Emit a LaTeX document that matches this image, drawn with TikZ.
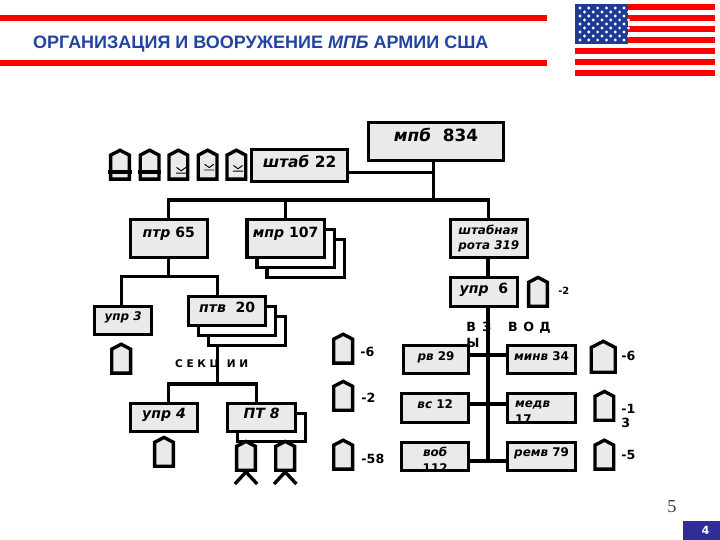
\documentclass[tikz,border=0pt]{standalone}
\usepackage{xcolor}
\usepackage{fontspec}
\setmainfont{DejaVu Sans}
\newfontfamily\titlefont{Liberation Sans}
\newfontfamily\pagefont{Liberation Serif}
\usetikzlibrary{positioning,shapes,arrows,calc}
\definecolor{flagblue}{RGB}{30, 58, 150}
\definecolor{titleblue}{RGB}{34, 68, 160}
\definecolor{slideblue}{RGB}{46, 46, 150}
\definecolor{unitgray}{RGB}{234, 234, 234}
\newcommand{\kmark}[1]{\draw[line width=.7pt, line cap=round] ($(#1)+(-.12,-.08)$) -- ($(#1)+(.12,-.08)$) ($(#1)+(-.11,.06)$) -- ($(#1)+(0,-.02)$) -- ($(#1)+(.11,.06)$);}
\begin{document}
\begin{tikzpicture}[
        unit/.style={rectangle, draw, fill=unitgray, line width=2.4pt, inner sep=0pt, minimum width=1.68cm, minimum height=0.72cm, font=\bfseries\fontsize{10}{12}\selectfont},
        sheet/.style={rectangle, draw, fill=white, line width=2.4pt, inner sep=0pt, minimum width=1.93cm, minimum height=0.73cm},
        small/.style={unit, font=\bfseries\fontsize{8.5}{11}\selectfont},
        up/.style={text depth=.2cm},
        uphigh/.style={text depth=.32cm},
        sym/.style={signal, signal to=north, signal pointer angle=125, draw, fill=unitgray, line width=2.4pt, inner sep=0pt, anchor=south, minimum width=0.47cm, minimum height=0.6cm},
        wire/.style={line width=2.4pt},
        num/.style={anchor=west, inner sep=0pt, font=\bfseries\fontsize{9}{10}\selectfont}
    ]
        \useasboundingbox (0,0) rectangle (18,13.5);

        % Title
        \fill[red] (0,13.125) rectangle (13.68,12.975);
        \fill[red] (0,12) rectangle (13.68,11.85);
        \node[text=titleblue, font=\titlefont\bfseries\fontsize{12.8}{15}\selectfont] (title) at (6.52,12.39) {ОРГАНИЗАЦИЯ И ВООРУЖЕНИЕ \textit{МПБ} АРМИИ США};

        % Flag
        \foreach \k in {0,...,6} {
            \fill[red] (14.38,{13.4-.275*\k}) rectangle (17.88,{13.25-.275*\k});
        }
        \fill[flagblue] (14.38,13.4) rectangle (15.7,12.4);
        \foreach \r in {0,...,8} {
            \foreach \c in {0,...,5} {
                \fill[white] ({14.5+.22*\c+.11*mod(\r,2)},{13.3-.1*\r}) circle (.04);
            }
        }

        % Battalion
        \node[unit, uphigh, minimum width=3.38cm, minimum height=0.95cm, font=\bfseries\fontsize{12}{14}\selectfont] (mpb) at (10.9,9.96) {\textit{мпб}~~834};
        \node[unit, up, minimum width=2.4cm, minimum height=0.8cm, font=\bfseries\fontsize{11}{14}\selectfont] (shtab) at (7.49,9.36) {\textit{штаб} 22};
        \coordinate (shbus) at (10.83,9.18);
        \coordinate (mainbus) at (10.83,8.5);

        \node[sym] (sh1) at (3,8.98) {};
        \node[sym] (sh2) at (3.74,8.98) {};
        \node[sym] (sh3) at (4.46,8.98) {};
        \node[sym] (sh4) at (5.19,8.98) {};
        \node[sym] (sh5) at (5.91,8.98) {};
        \draw[wire] ($(sh1.south)+(-.29,.22)$) -- ($(sh1.south)+(.29,.22)$);
        \draw[wire] ($(sh2.south)+(-.29,.22)$) -- ($(sh2.south)+(.29,.22)$);
        \kmark{4.53,9.25}
        \kmark{5.23,9.33}
        \kmark{5.95,9.3}

        \draw[wire] (mpb.south -| mainbus) -- (mainbus);
        \draw[wire] (shtab.east |- shbus) -- (shbus);

        % Companies
        \node[unit, uphigh, minimum width=1.93cm, minimum height=0.95cm] (ptr) at (4.22,7.54) {\textit{птр} 65};
        \node[sheet, minimum height=0.95cm] (mpr3) at (7.64,7.04) {};
        \node[sheet, minimum height=0.95cm] (mpr2) at (7.39,7.29) {};
        \node[unit, uphigh, minimum width=1.93cm, minimum height=0.95cm] (mpr) at (7.14,7.54) {\textit{мпр} 107};
        \node[small, minimum width=1.93cm, minimum height=0.95cm, align=left] (shtr) at (12.22,7.54) {\textit{штабная}\\\textit{рота 319}};

        \draw[wire] (ptr.north) |- (shtr.north |- mainbus) -- (shtr.north);
        \draw[wire] (mpr.north) -- (mpr.north |- mainbus);

        % Anti-tank platoon
        \coordinate (ptrbus) at (4.22,6.58);
        \coordinate (ptvbus) at (5.43,3.9);
        \node[small, up, minimum width=1.43cm, minimum height=0.7cm] (upr3) at (3.08,5.49) {\textit{упр 3}};
        \node[sheet] (ptv3) at (6.18,5.23) {};
        \node[sheet] (ptv2) at (5.93,5.48) {};
        \node[unit, up, minimum width=1.93cm] (ptv) at (5.68,5.73) {\textit{птв}~~20};
        \node[sym] (upr3s) at (3.03,4.13) {};

        \draw[wire] (ptr.south) -- (ptrbus);
        \draw[wire] ([xshift=-.05cm]upr3.north) |- (ptvbus |- ptrbus) -- (ptvbus |- ptv.north);
        \draw[wire] (ptv3.south -| ptvbus) -- (ptvbus);

        % Sections
        \node[font=\bfseries\fontsize{7.5}{9}\selectfont, inner sep=0pt] (sec) at (5.29,4.39) {С Е К Ц \ И И};
        \node[unit, up, minimum height=0.7cm] (upr4) at (4.1,3.06) {\textit{упр 4}};
        \node[sheet, minimum width=1.7cm, minimum height=0.7cm] (pt82) at (6.79,2.81) {};
        \node[unit, up, minimum width=1.7cm, minimum height=0.7cm] (pt8) at (6.54,3.06) {\textit{ПТ 8}};
        \node[sym] (upr4s) at (4.1,1.8) {};
        \node[sym] (pt8a) at (6.15,1.7) {};
        \node[sym] (pt8b) at (7.13,1.7) {};

        \draw[wire] ([xshift=.12cm]upr4.north) |- (ptvbus) -| ([xshift=-.13cm]pt8.north);
        \draw[wire] ($(pt8a.south)+(-.28,-.3)$) -- (pt8a.south) -- ($(pt8a.south)+(.28,-.3)$);
        \draw[wire] ($(pt8b.south)+(-.28,-.3)$) -- (pt8b.south) -- ($(pt8b.south)+(.28,-.3)$);

        % Headquarters company
        \node[unit, up, minimum height=0.73cm] (upr6) at (12.1,6.2) {\textit{упр}~~6};
        \node[sym] (upr6s) at (13.45,5.8) {};
        \node[num, font=\bfseries\fontsize{7}{9}\selectfont] (upr6n) at (13.95,6.23) {-2};
        \coordinate (trunk) at (12.2,1.975);
        \coordinate (b1) at (12.2,4.625);
        \coordinate (b2) at (12.2,3.4);
        \node[small, up, minimum width=1.63cm, minimum height=0.7cm] (rv) at (10.9,4.51) {\textit{рв} 29};
        \node[small, up, minimum height=0.73cm] (vs) at (10.88,3.3) {\textit{вс} 12};
        \node[small, minimum height=0.7cm, align=center] (vob) at (10.88,2.09) {\smash{\raisebox{-.2cm}{\begin{tabular}[c]{@{}c@{}}\textit{воб}\\112\end{tabular}}}};
        \node[small, up, minimum width=1.7cm, minimum height=0.7cm] (minv) at (13.54,4.51) {\textit{минв} 34};
        \node[small, minimum width=1.7cm, minimum height=0.73cm] (medv) at (13.54,3.3) {\smash{\raisebox{-.18cm}{\begin{tabular}[c]{@{}l@{}}\textit{медв}\\17\end{tabular}}}\hspace*{.45cm}};
        \node[small, up, minimum width=1.7cm, minimum height=0.7cm] (remv) at (13.54,2.09) {\textit{ремв} 79};

        \draw[wire] (shtr.south -| trunk) -- (upr6.north -| trunk);
        \draw[wire] (upr6.south -| trunk) -- (trunk);
        \draw[line width=2.8pt] (rv.east |- b1) -- (minv.west |- b1);
        \draw[wire] (vs.east |- b2) -- (medv.west |- b2);
        \draw[wire] (vob.east |- trunk) -- (remv.west |- trunk);

        \node[font=\bfseries\fontsize{9}{11.4}\selectfont, anchor=west, inner sep=0pt, align=left] (vzv) at (11.65,5.13) {В\hspace{.16cm}З\hspace{.42cm}В\hspace{.14cm}О\hspace{.13cm}Д\\Ы};

        % Figures beside the platoons
        \node[sym] (la) at (8.58,4.38) {};
        \node[sym] (lb) at (8.58,3.2) {};
        \node[sym] (lc) at (8.58,1.73) {};
        \node[sym, minimum width=0.6cm, minimum height=0.62cm] (ra) at (15.08,4.15) {};
        \node[sym] (rb) at (15.11,2.95) {};
        \node[sym] (rc) at (15.11,1.73) {};
        \node[num] (lan) at (9,4.7) {-6};
        \node[num] (lbn) at (9.03,3.55) {-2};
        \node[num] (lcn) at (9.03,2.03) {-58};
        \node[num] (ran) at (15.53,4.6) {-6};
        \node[num, align=left, font=\bfseries\fontsize{9}{10}\selectfont] (rbn) at (15.53,3.1) {-1\\3};
        \node[num] (rcn) at (15.53,2.12) {-5};

        % Page number
        \node[text=black!75, font=\pagefont\fontsize{13}{15}\selectfont] (page) at (16.8,.83) {5};
        \node[rectangle, fill=slideblue, text=white, inner sep=0pt, minimum width=.93cm, minimum height=.48cm, font=\bfseries\fontsize{8}{9}\selectfont] (slide) at (17.54,.24) {\hspace*{.2cm}4};
    \end{tikzpicture}
\end{document}
